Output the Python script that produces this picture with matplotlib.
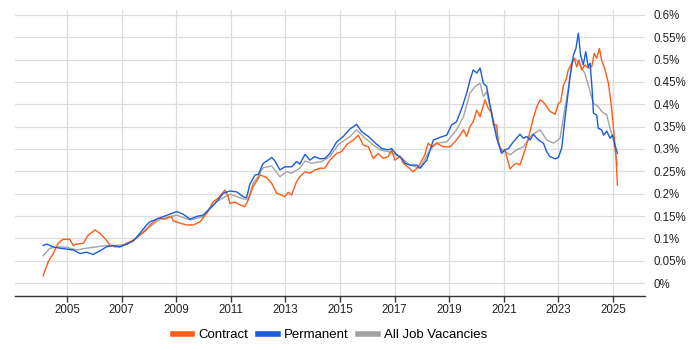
import matplotlib
matplotlib.use("Agg")
import matplotlib.pyplot as plt
from matplotlib.lines import Line2D

# values (share of job ads, in %)
contract_years = [2004.13, 2004.32, 2004.50, 2004.68, 2004.86, 2005.11, 2005.23, 2005.36, 2005.60, 2005.78,
                  2006.03, 2006.21, 2006.39, 2006.58, 2006.76, 2006.94, 2007.19, 2007.43, 2007.67, 2007.92,
                  2008.04, 2008.34, 2008.59, 2008.83, 2008.89, 2009.14, 2009.38, 2009.63, 2009.87, 2010.12,
                  2010.36, 2010.54, 2010.79, 2010.91, 2010.97, 2011.15, 2011.34, 2011.52, 2011.64, 2011.82,
                  2012.01, 2012.07, 2012.31, 2012.50, 2012.68, 2012.86, 2012.98, 2013.10, 2013.23, 2013.41,
                  2013.53, 2013.72, 2013.90, 2014.08, 2014.27, 2014.45, 2014.63, 2014.88, 2015.06, 2015.25,
                  2015.49, 2015.67, 2015.85, 2016.04, 2016.16, 2016.22, 2016.40, 2016.59, 2016.77, 2016.89,
                  2017.01, 2017.20, 2017.32, 2017.50, 2017.68, 2017.87, 2018.11, 2018.23, 2018.36, 2018.54,
                  2018.78, 2019.03, 2019.21, 2019.40, 2019.52, 2019.64, 2019.76, 2019.88, 2020.01, 2020.13,
                  2020.31, 2020.43, 2020.56, 2020.62, 2020.74, 2020.80, 2020.92, 2021.04, 2021.23, 2021.35,
                  2021.47, 2021.59, 2021.72, 2021.90, 2022.08, 2022.21, 2022.33, 2022.45, 2022.57, 2022.69,
                  2022.88, 2023.00, 2023.08, 2023.18, 2023.28, 2023.36, 2023.49, 2023.57, 2023.67, 2023.75,
                  2023.85, 2023.97, 2024.09, 2024.22, 2024.31, 2024.40, 2024.50, 2024.58, 2024.71, 2024.83,
                  2024.95, 2025.04, 2025.11, 2025.16]
contract = [0.016, 0.048, 0.066, 0.089, 0.098, 0.098, 0.084, 0.087, 0.089, 0.107,
            0.119, 0.111, 0.100, 0.085, 0.081, 0.081, 0.089, 0.096, 0.107, 0.119,
            0.130, 0.145, 0.143, 0.149, 0.139, 0.134, 0.130, 0.130, 0.137, 0.156,
            0.182, 0.190, 0.208, 0.193, 0.178, 0.181, 0.175, 0.171, 0.186, 0.216,
            0.234, 0.242, 0.236, 0.223, 0.201, 0.197, 0.193, 0.203, 0.197, 0.227,
            0.238, 0.249, 0.246, 0.253, 0.257, 0.257, 0.275, 0.290, 0.294, 0.310,
            0.320, 0.331, 0.309, 0.305, 0.287, 0.279, 0.290, 0.279, 0.283, 0.298,
            0.275, 0.284, 0.268, 0.259, 0.249, 0.260, 0.287, 0.313, 0.305, 0.313,
            0.305, 0.305, 0.316, 0.331, 0.343, 0.328, 0.350, 0.361, 0.387, 0.372,
            0.410, 0.391, 0.380, 0.354, 0.354, 0.313, 0.294, 0.298, 0.255, 0.264,
            0.268, 0.264, 0.287, 0.324, 0.369, 0.395, 0.410, 0.405, 0.395, 0.384,
            0.378, 0.402, 0.405, 0.442, 0.455, 0.477, 0.492, 0.503, 0.484, 0.499,
            0.477, 0.488, 0.481, 0.484, 0.514, 0.503, 0.525, 0.499, 0.477, 0.447,
            0.391, 0.331, 0.279, 0.219]

perm_years = [2004.13, 2004.26, 2004.50, 2004.74, 2004.99, 2005.23, 2005.48, 2005.72, 2005.96, 2006.21,
              2006.45, 2006.70, 2006.94, 2007.19, 2007.43, 2007.67, 2007.92, 2008.04, 2008.41, 2008.77,
              2009.02, 2009.26, 2009.51, 2009.75, 2009.99, 2010.24, 2010.48, 2010.73, 2010.97, 2011.22,
              2011.46, 2011.58, 2011.70, 2011.89, 2012.01, 2012.19, 2012.37, 2012.50, 2012.62, 2012.80,
              2012.98, 2013.23, 2013.41, 2013.53, 2013.72, 2013.90, 2014.08, 2014.27, 2014.45, 2014.63,
              2014.88, 2015.12, 2015.37, 2015.61, 2015.79, 2016.04, 2016.30, 2016.53, 2016.77, 2016.89,
              2017.08, 2017.26, 2017.38, 2017.56, 2017.81, 2017.93, 2018.18, 2018.42, 2018.66, 2018.91,
              2019.09, 2019.27, 2019.46, 2019.64, 2019.76, 2019.88, 2020.01, 2020.13, 2020.25, 2020.37,
              2020.49, 2020.62, 2020.74, 2020.92, 2021.04, 2021.17, 2021.35, 2021.59, 2021.72, 2021.84,
              2021.96, 2022.08, 2022.27, 2022.45, 2022.57, 2022.69, 2022.88, 2023.00, 2023.12, 2023.24,
              2023.36, 2023.42, 2023.55, 2023.64, 2023.73, 2023.81, 2023.91, 2024.00, 2024.09, 2024.16,
              2024.24, 2024.28, 2024.40, 2024.46, 2024.58, 2024.66, 2024.77, 2024.89, 2024.98, 2025.07,
              2025.16]
permanent = [0.084, 0.087, 0.081, 0.078, 0.076, 0.074, 0.066, 0.069, 0.064, 0.072,
             0.081, 0.084, 0.081, 0.087, 0.094, 0.111, 0.130, 0.137, 0.146, 0.154,
             0.160, 0.154, 0.143, 0.149, 0.152, 0.167, 0.182, 0.201, 0.206, 0.204,
             0.193, 0.191, 0.221, 0.242, 0.243, 0.268, 0.275, 0.281, 0.273, 0.253,
             0.260, 0.260, 0.272, 0.266, 0.288, 0.275, 0.283, 0.278, 0.279, 0.290,
             0.316, 0.328, 0.345, 0.355, 0.339, 0.328, 0.313, 0.301, 0.298, 0.301,
             0.287, 0.279, 0.268, 0.264, 0.264, 0.257, 0.275, 0.320, 0.326, 0.331,
             0.354, 0.361, 0.391, 0.425, 0.454, 0.477, 0.470, 0.481, 0.447, 0.440,
             0.400, 0.358, 0.324, 0.290, 0.298, 0.301, 0.316, 0.333, 0.324, 0.328,
             0.320, 0.333, 0.320, 0.313, 0.294, 0.283, 0.278, 0.281, 0.302, 0.369,
             0.428, 0.458, 0.510, 0.525, 0.559, 0.510, 0.488, 0.518, 0.484, 0.492,
             0.428, 0.380, 0.376, 0.346, 0.343, 0.331, 0.340, 0.324, 0.331, 0.309,
             0.290]

all_years = [2004.13, 2004.38, 2004.74, 2004.99, 2005.36, 2005.72, 2006.09, 2006.45, 2006.82, 2007.19,
             2007.55, 2007.92, 2008.04, 2008.41, 2009.02, 2009.51, 2009.99, 2010.48, 2010.97, 2011.46,
             2011.64, 2011.82, 2011.98, 2012.19, 2012.50, 2012.80, 2013.04, 2013.23, 2013.53, 2013.72,
             2013.96, 2014.33, 2014.63, 2014.94, 2015.37, 2015.61, 2015.92, 2016.22, 2016.47, 2016.83,
             2017.20, 2017.56, 2017.93, 2018.30, 2018.54, 2018.91, 2019.27, 2019.52, 2019.76, 2019.95,
             2020.13, 2020.25, 2020.37, 2020.49, 2020.68, 2020.86, 2021.23, 2021.47, 2021.72, 2022.02,
             2022.33, 2022.57, 2022.82, 2023.06, 2023.18, 2023.36, 2023.49, 2023.61, 2023.79, 2023.97,
             2024.16, 2024.28, 2024.46, 2024.58, 2024.77, 2024.89, 2025.01, 2025.16]
all_jobs = [0.061, 0.078, 0.081, 0.080, 0.074, 0.078, 0.081, 0.084, 0.084, 0.087,
            0.100, 0.122, 0.126, 0.143, 0.152, 0.141, 0.149, 0.182, 0.199, 0.188,
            0.188, 0.223, 0.236, 0.258, 0.262, 0.238, 0.249, 0.246, 0.257, 0.273,
            0.268, 0.272, 0.283, 0.310, 0.328, 0.343, 0.324, 0.309, 0.298, 0.293,
            0.283, 0.264, 0.257, 0.298, 0.313, 0.316, 0.343, 0.372, 0.425, 0.440,
            0.447, 0.417, 0.428, 0.395, 0.350, 0.302, 0.287, 0.298, 0.305, 0.331,
            0.343, 0.320, 0.313, 0.324, 0.370, 0.436, 0.495, 0.503, 0.488, 0.469,
            0.428, 0.402, 0.395, 0.384, 0.376, 0.346, 0.324, 0.264]

year_ticks = [2005, 2007, 2009, 2011, 2013, 2015, 2017, 2019, 2021, 2023, 2025]
pct_ticks = [0, 0.05, 0.1, 0.15, 0.2, 0.25, 0.3, 0.35, 0.4, 0.45, 0.5, 0.55, 0.6]
pct_labels = ['0%', '0.05%', '0.1%', '0.15%', '0.2%', '0.25%', '0.3%', '0.35%',
              '0.4%', '0.45%', '0.5%', '0.55%', '0.6%']

c_contract = '#ff5b14'
c_perm = '#1a5cdb'
c_all = '#a3a3a3'

plt.rcParams['font.family'] = ['Liberation Sans', 'DejaVu Sans']

fig = plt.figure(figsize=(7, 3.5), dpi=100)
ax = fig.add_axes([15 / 700, 1 - 296 / 350, 630 / 700, 286 / 350])

ax.plot(all_years, all_jobs, color=c_all, lw=1.0, zorder=3)
ax.plot(contract_years, contract, color=c_contract, lw=1.0, zorder=4)
ax.plot(perm_years, permanent, color=c_perm, lw=1.0, zorder=5)

ax.set_xlim(2003.1, 2026.17)
ax.set_ylim(-0.029, 0.611)
ax.set_xticks(year_ticks)
ax.set_xticklabels([str(y) for y in year_ticks])
ax.yaxis.tick_right()
ax.set_yticks(pct_ticks)
ax.set_yticklabels(pct_labels)
ax.tick_params(axis='y', length=0, pad=6, labelsize=8.3, colors='#222222')
ax.tick_params(axis='x', length=4, width=1, color='#333333', pad=2, labelsize=8.3, labelcolor='#222222')
ax.grid(True, color='#dcdcdc', lw=0.9)
ax.set_axisbelow(True)
for s in ['top', 'left', 'right']:
    ax.spines[s].set_visible(False)
ax.spines['bottom'].set_color('#333333')
ax.spines['bottom'].set_linewidth(1)

handles = [Line2D([], [], color=c_contract, lw=4),
           Line2D([], [], color=c_perm, lw=4),
           Line2D([], [], color=c_all, lw=4)]
fig.legend(handles, ['Contract', 'Permanent', 'All Job Vacancies'], loc='center',
           bbox_to_anchor=(330 / 700, 1 - 335 / 350), ncol=3, frameon=False,
           fontsize=9.5, handlelength=1.5, handletextpad=0.45, columnspacing=0.75)

fig.savefig('out.png', dpi=100)
